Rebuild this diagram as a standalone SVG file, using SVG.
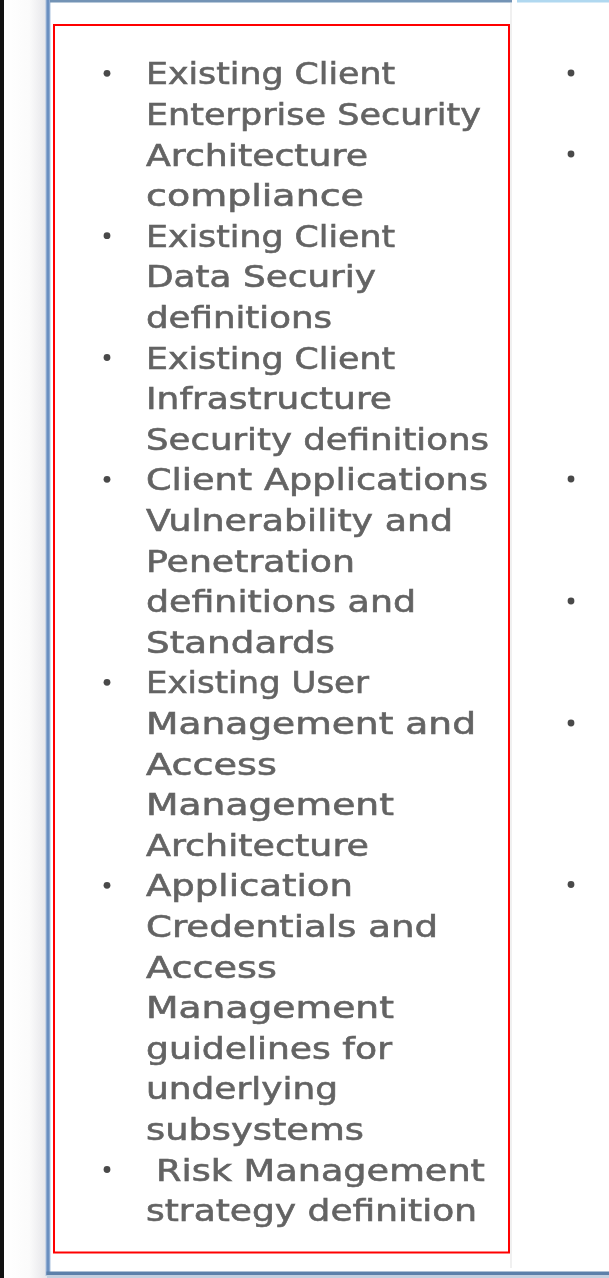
<svg xmlns="http://www.w3.org/2000/svg" width="609" height="1278" viewBox="0 0 609 1278">
  <defs>
    <linearGradient id="leftShade" x1="0" y1="0" x2="1" y2="0">
      <stop offset="0" stop-color="#ffffff"/>
      <stop offset="0.6" stop-color="#fbfbfb"/>
      <stop offset="1" stop-color="#e6e6ea"/>
    </linearGradient>
    <filter id="soft" x="-5%" y="-20%" width="110%" height="140%">
      <feGaussianBlur stdDeviation="0.6"/>
    </filter>
    <style>
      .t { font-family: "DejaVu Sans", "Liberation Sans", sans-serif; font-size: 29.5px; fill: #646464; stroke: #646464; stroke-width: 0.6px; }
      .b { fill: #4a4a4a; }
    </style>
  </defs>

  <rect width="609" height="1278" fill="#ffffff"/>

  <g id="frame">
    <rect x="0" y="0" width="4" height="1278" fill="#111111"/>
    <rect x="4" y="0" width="42" height="1278" fill="url(#leftShade)"/>
    <rect x="45.5" y="0" width="5" height="1276" fill="#aec3e0"/>
    <rect x="46.5" y="0" width="3" height="1275" fill="#6a8fc0"/>
    <rect x="50" y="0" width="462" height="2.5" fill="#7393b5"/>
    <rect x="517" y="0" width="92" height="2.5" fill="#b0d8f0"/>
    <rect x="46.5" y="1271.5" width="562.5" height="3.5" fill="#5d80aa"/>
    <rect x="46.5" y="1275" width="562.5" height="3" fill="#c3d0e0"/>
    <rect x="510" y="3" width="2" height="1265" fill="#f0f0f0"/>
  </g>

  <g id="highlight">
    <rect x="54" y="25" width="455" height="1227.5" fill="none" stroke="#ff0000" stroke-width="2"/>
  </g>

  <g id="bullets-left" class="b" filter="url(#soft)">
    <circle cx="107" cy="73.3" r="3.4"/>
    <circle cx="107" cy="235.7" r="3.4"/>
    <circle cx="107" cy="357.5" r="3.4"/>
    <circle cx="107" cy="479.3" r="3.4"/>
    <circle cx="107" cy="682.3" r="3.4"/>
    <circle cx="107" cy="885.3" r="3.4"/>
    <circle cx="107" cy="1169.5" r="3.4"/>
  </g>

  <g id="bullets-right" class="b" filter="url(#soft)">
    <circle cx="571" cy="73" r="3.4"/>
    <circle cx="571" cy="154" r="3.4"/>
    <circle cx="571" cy="479" r="3.4"/>
    <circle cx="571" cy="601" r="3.4"/>
    <circle cx="571" cy="723" r="3.4"/>
    <circle cx="571" cy="884.5" r="3.4"/>
  </g>

  <g id="list" class="t" filter="url(#soft)">
    <text x="146" y="84.3" textLength="249" lengthAdjust="spacingAndGlyphs">Existing Client</text>
    <text x="146" y="124.9" textLength="335" lengthAdjust="spacingAndGlyphs">Enterprise Security</text>
    <text x="146" y="165.5" textLength="222" lengthAdjust="spacingAndGlyphs">Architecture</text>
    <text x="146" y="206.1" textLength="218" lengthAdjust="spacingAndGlyphs">compliance</text>
    <text x="146" y="246.7" textLength="249" lengthAdjust="spacingAndGlyphs">Existing Client</text>
    <text x="146" y="287.3" textLength="230" lengthAdjust="spacingAndGlyphs">Data Securiy</text>
    <text x="146" y="327.9" textLength="186" lengthAdjust="spacingAndGlyphs">definitions</text>
    <text x="146" y="368.5" textLength="249" lengthAdjust="spacingAndGlyphs">Existing Client</text>
    <text x="146" y="409.1" textLength="246" lengthAdjust="spacingAndGlyphs">Infrastructure</text>
    <text x="146" y="449.7" textLength="343" lengthAdjust="spacingAndGlyphs">Security definitions</text>
    <text x="146" y="490.3" textLength="342" lengthAdjust="spacingAndGlyphs">Client Applications</text>
    <text x="146" y="530.9" textLength="307" lengthAdjust="spacingAndGlyphs">Vulnerability and</text>
    <text x="146" y="571.5" textLength="209" lengthAdjust="spacingAndGlyphs">Penetration</text>
    <text x="146" y="612.1" textLength="270" lengthAdjust="spacingAndGlyphs">definitions and</text>
    <text x="146" y="652.7" textLength="189" lengthAdjust="spacingAndGlyphs">Standards</text>
    <text x="146" y="693.3" textLength="223" lengthAdjust="spacingAndGlyphs">Existing User</text>
    <text x="146" y="733.9" textLength="330" lengthAdjust="spacingAndGlyphs">Management and</text>
    <text x="146" y="774.5" textLength="131" lengthAdjust="spacingAndGlyphs">Access</text>
    <text x="146" y="815.1" textLength="248" lengthAdjust="spacingAndGlyphs">Management</text>
    <text x="146" y="855.7" textLength="223" lengthAdjust="spacingAndGlyphs">Architecture</text>
    <text x="146" y="896.3" textLength="207" lengthAdjust="spacingAndGlyphs">Application</text>
    <text x="146" y="936.9" textLength="292" lengthAdjust="spacingAndGlyphs">Credentials and</text>
    <text x="146" y="977.5" textLength="131" lengthAdjust="spacingAndGlyphs">Access</text>
    <text x="146" y="1018.1" textLength="248" lengthAdjust="spacingAndGlyphs">Management</text>
    <text x="146" y="1058.7" textLength="246" lengthAdjust="spacingAndGlyphs">guidelines for</text>
    <text x="146" y="1099.3" textLength="192" lengthAdjust="spacingAndGlyphs">underlying</text>
    <text x="146" y="1139.9" textLength="218" lengthAdjust="spacingAndGlyphs">subsystems</text>
    <text x="156" y="1180.5" textLength="329" lengthAdjust="spacingAndGlyphs">Risk Management</text>
    <text x="146" y="1221.1" textLength="331" lengthAdjust="spacingAndGlyphs">strategy definition</text>
  </g>
</svg>
